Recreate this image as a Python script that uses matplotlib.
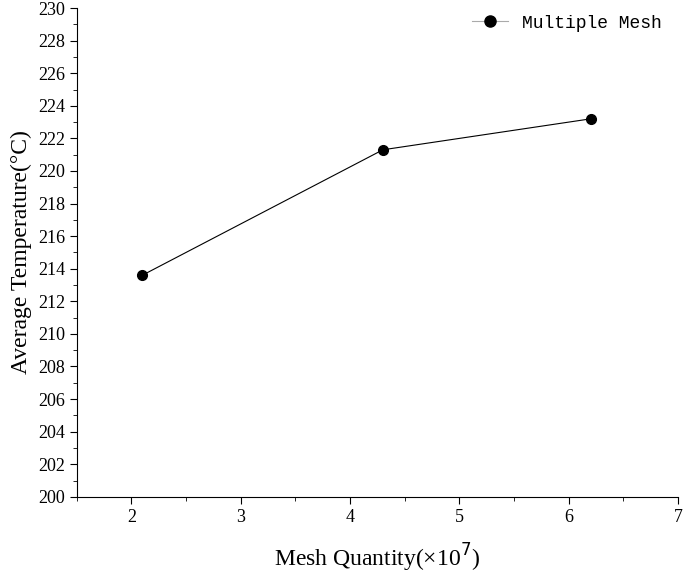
import matplotlib
matplotlib.use("Agg")
import matplotlib.pyplot as plt
from matplotlib.ticker import MultipleLocator
from matplotlib.lines import Line2D

mesh = [2.1, 4.3, 6.2]
temp = [213.6, 221.3, 223.2]

fig = plt.figure(figsize=(6.85, 5.75), dpi=100)
ax = fig.add_axes([0.112, 0.136, 0.878, 0.85])
ax.plot(mesh, temp, color="black", lw=0.8, marker="o", ms=7)
ax.set_xlim(1.5, 7)
ax.set_ylim(200, 230)
ax.xaxis.set_major_locator(MultipleLocator(1))
ax.xaxis.set_minor_locator(MultipleLocator(0.5))
ax.yaxis.set_major_locator(MultipleLocator(2))
ax.yaxis.set_minor_locator(MultipleLocator(1))
for s in ["top", "right"]:
    ax.spines[s].set_visible(False)
ax.tick_params(which="both", direction="out", labelsize=13)
ax.tick_params(which="major", length=5)
ax.tick_params(which="minor", length=3)
for lab in ax.get_xticklabels() + ax.get_yticklabels():
    lab.set_fontfamily("Liberation Serif")
ax.set_xlabel("Mesh Quantity(×10$^7$)", fontsize=17, family="Liberation Serif", labelpad=12)
ax.set_ylabel("Average Temperature(°C)", fontsize=17, family="Liberation Serif")
handle = Line2D([], [], color="#aaaaaa", lw=0.8, marker="o", ms=8,
                markerfacecolor="black", markeredgecolor="black")
ax.legend([handle], ["Multiple Mesh"], loc="upper right", frameon=False,
          prop={"family": "Liberation Mono", "size": 13}, bbox_to_anchor=(1.0, 1.02))
fig.savefig("out.png", dpi=100)
